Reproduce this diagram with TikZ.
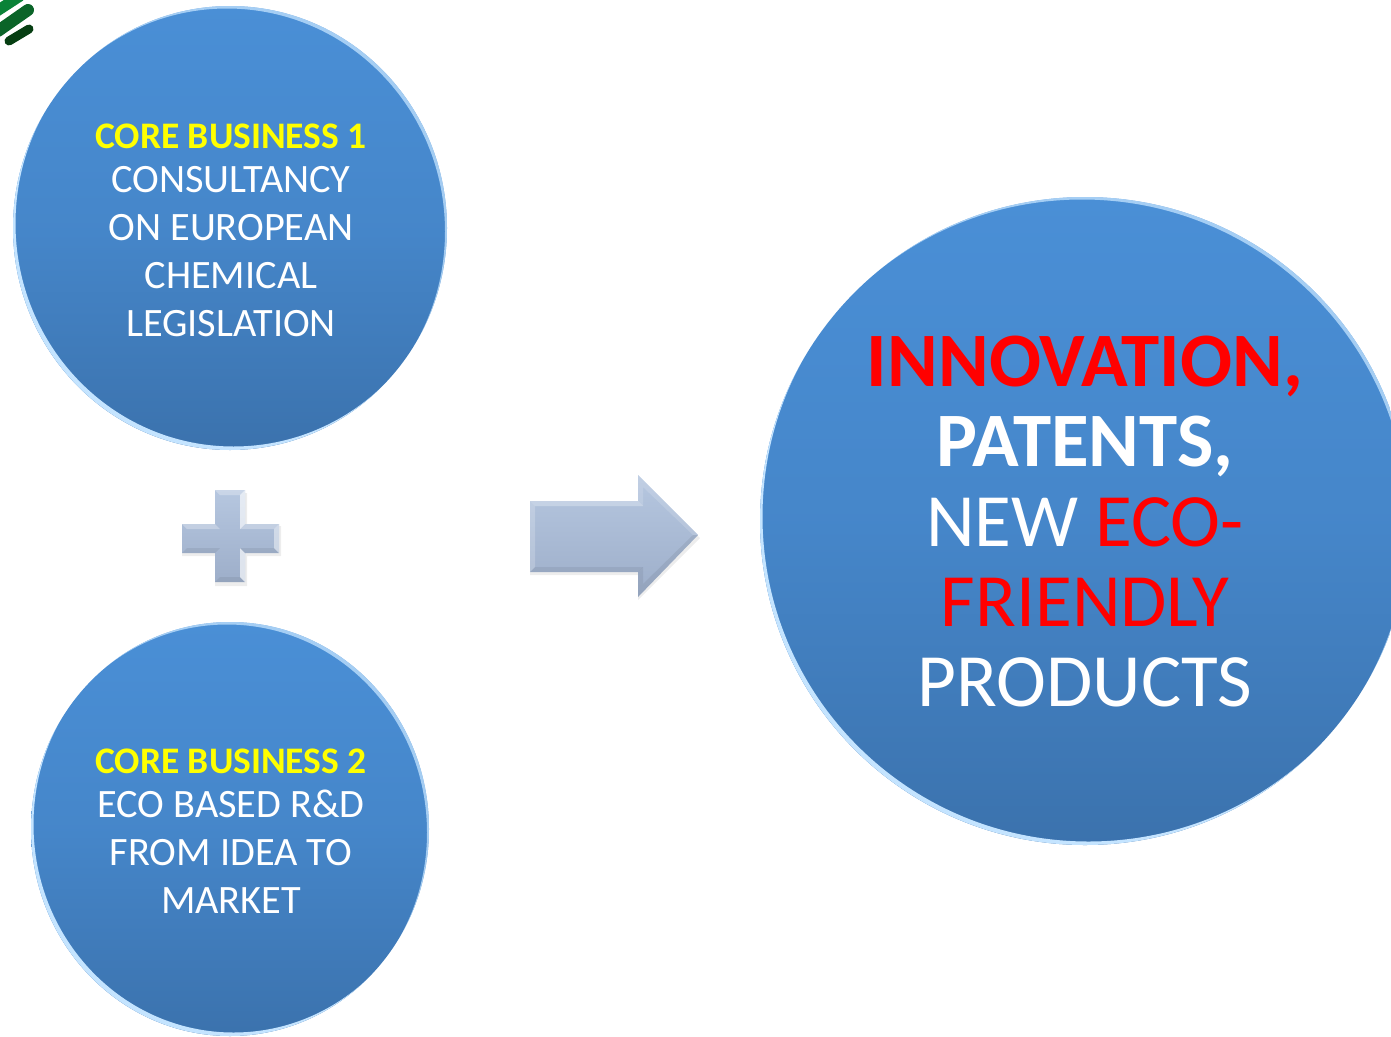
\documentclass[tikz,border=0pt]{standalone}
\usepackage{fontspec}
\setmainfont{Carlito}
\usetikzlibrary{shapes.geometric}
\definecolor{btop}{HTML}{4A8FD6}
\definecolor{bbot}{HTML}{3B72AD}
\definecolor{atop}{HTML}{B6C7E0}
\definecolor{abot}{HTML}{9DAEC9}
\definecolor{rim}{HTML}{C4E4FF}
\definecolor{yel}{HTML}{FFFF00}
\newcommand{\smallbold}{\fontsize{37.5}{48}\selectfont\bfseries}
\newcommand{\largebold}{\fontsize{77}{80}\selectfont\bfseries}
\tikzset{
  disc/.style={ellipse,inner sep=0pt,top color=btop,bottom color=bbot,middle color=btop!70!bbot},
  disctext/.style={inner sep=0pt,align=center,text=white},
  small/.style={font=\fontsize{40.3}{48}\selectfont},
  large/.style={font=\fontsize{75.3}{80}\selectfont},
  solidshape/.style={top color=atop,bottom color=abot},
  bevlight/.style={fill=white,opacity=.28},
  bevdark/.style={fill=black!60!abot,opacity=.10},
  softshadow/.style={fill=black,opacity=.07},
  strip/.style={line cap=round,line width=#1},
}
\newcommand{\rimcrescents}[3]{%
  \begin{scope}
    \clip (#1) ellipse [x radius=#2,y radius=#3];
    \fill[rim,even odd rule] (#1) ellipse [x radius=#2+1,y radius=#3+1]
       ([shift={(3.5,-4.5)}]#1) ellipse [x radius=#2+1,y radius=#3+1];
    \fill[rim,opacity=.75,even odd rule] (#1) ellipse [x radius=#2+1,y radius=#3+1]
       ([shift={(-3,3.5)}]#1) ellipse [x radius=#2+1,y radius=#3+1];
  \end{scope}}
\begin{document}
\begin{tikzpicture}[x=1pt,y=-1pt]
\useasboundingbox (0,0) rectangle (1391,1036);
\clip (0,0) rectangle (1391,1036);
% logo
\draw[strip=11pt,color={rgb,255:red,10;green,130;blue,55}] (-3,11) -- (20,-4);
\draw[strip=12pt,color={rgb,255:red,10;green,100;blue,40}] (-2,31) -- (28,10);
\draw[strip=9pt,color={rgb,255:red,6;green,62;blue,18}] (9,41) -- (29,29);
% circles
\node[disc,minimum width=434pt,minimum height=444pt] (core1) at (230,228) {};
\rimcrescents{core1.center}{217}{222}
\node[disctext,small] (core1text) at (231,230)
  {{\smallbold\textcolor{yel}{CORE BUSINESS 1}}\\[-4pt]CONSULTANCY\\ON EUROPEAN\\CHEMICAL\\LEGISLATION};
\node[disc,minimum width=398pt,minimum height=414pt] (core2) at (230,829) {};
\rimcrescents{core2.center}{199}{207}
\node[disctext,small] (core2text) at (231,831)
  {{\smallbold\textcolor{yel}{CORE BUSINESS 2}}\\[-4pt]ECO BASED R\&D\\FROM IDEA TO\\MARKET};
\node[disc,minimum width=650pt,minimum height=648pt] (result) at (1085,521) {};
\rimcrescents{result.center}{325}{324}
\node[disctext,large] (resulttext) at (1085,522)
  {{\largebold\textcolor{red}{INNOVATION,}}\\{\largebold PATENTS,}\\NEW \textcolor{red}{ECO-}\\\textcolor{red}{FRIENDLY}\\PRODUCTS};
% plus
\fill[softshadow] (215,493)--(247,493)--(247,526)--(281,526)--(281,556)--(247,556)--(247,586)--(215,586)--(215,556)--(182,556)--(182,526)--(215,526)--cycle;
\path[solidshape] (215,490)--(245,490)--(245,524)--(279,524)--(279,553)--(245,553)--(245,582)--(215,582)--(215,553)--(182,553)--(182,524)--(215,524)--cycle;
\fill[bevlight] (215,490)--(245,490)--(240,495)--(220,495)--cycle;
\fill[bevlight] (182,524)--(215,524)--(220,529)--(187,529)--cycle;
\fill[bevlight] (245,524)--(279,524)--(274,529)--(240,529)--cycle;
\fill[white,opacity=.65] (245,490)--(245,524)--(240,529)--(240,495)--cycle;
\fill[white,opacity=.65] (245,553)--(245,582)--(240,577)--(240,548)--cycle;
\fill[white,opacity=.45] (279,524)--(279,553)--(274,548)--(274,529)--cycle;
\fill[bevdark] (215,582)--(245,582)--(240,577)--(220,577)--cycle;
\fill[bevdark] (182,553)--(215,553)--(220,548)--(187,548)--cycle;
\fill[bevdark] (245,553)--(279,553)--(274,548)--(240,548)--cycle;
% arrow
\fill[softshadow] (530,504)--(638,504)--(638,479)--(700,538)--(638,600)--(638,575)--(530,575)--cycle;
\path[solidshape] (530,501)--(638,501)--(638,475)--(698,535)--(638,597)--(638,572)--(530,572)--cycle;
\fill[bevlight] (530,501)--(638,501)--(643,506)--(535,506)--cycle;
\fill[white,opacity=.15] (638,475)--(698,535)--(693,535)--(643,487)--(643,506)--(638,501)--cycle;
\fill[white,opacity=.2] (530,501)--(535,506)--(535,567)--(530,572)--cycle;
\fill[bevdark] (530,572)--(638,572)--(643,567)--(535,567)--cycle;
\fill[bevdark] (698,535)--(638,597)--(638,572)--(643,567)--(643,584)--(693,535)--cycle;
\end{tikzpicture}
\end{document}
